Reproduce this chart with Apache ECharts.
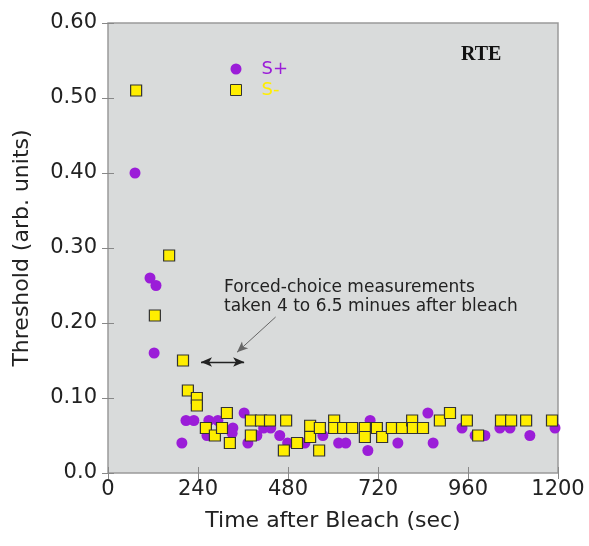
<!DOCTYPE html>
<html>
<head>
<meta charset="utf-8">
<script src="https://cdn.jsdelivr.net/npm/echarts@6/dist/echarts.min.js"></script>
<style>
  html, body { margin: 0; padding: 0; background: #fff; }
  #content { width: 589px; height: 546px; }
</style>
</head>
<body>
<div id="content"></div>
<script>
// S+ : time after bleach (sec), threshold (arb. units)
var sPlusTime = [72, 112, 128, 123, 197, 208, 229, 269, 293, 264, 333, 331, 363, 373, 397, 415, 434, 458, 479,
    525, 573, 615, 634, 699, 693, 773, 853, 867, 944, 979, 1005, 1045, 1072, 1125, 1192];
var sPlusValue = [0.40, 0.26, 0.25, 0.16, 0.04, 0.07, 0.07, 0.07, 0.07, 0.05, 0.06, 0.053, 0.08, 0.04, 0.05, 0.06, 0.06, 0.05, 0.04,
    0.04, 0.05, 0.04, 0.04, 0.07, 0.03, 0.04, 0.08, 0.04, 0.06, 0.05, 0.05, 0.06, 0.06, 0.05, 0.06];

// S- : time after bleach (sec), threshold (arb. units)
var sMinusTime = [75, 163, 125, 200, 213, 237, 237, 261, 285, 304, 317, 325, 381, 381, 408, 432, 475, 469, 504,
    539, 539, 565, 563, 603, 603, 627, 651, 685, 685, 717, 731, 757, 784, 811, 813,
    840, 885, 912, 957, 987, 1048, 1075, 1115, 1184];
var sMinusValue = [0.51, 0.29, 0.21, 0.15, 0.11, 0.10, 0.09, 0.06, 0.05, 0.06, 0.08, 0.04, 0.07, 0.05, 0.07, 0.07, 0.07, 0.03, 0.04,
    0.063, 0.048, 0.06, 0.03, 0.07, 0.06, 0.06, 0.06, 0.06, 0.048, 0.06, 0.048, 0.06, 0.06, 0.07, 0.06,
    0.06, 0.07, 0.08, 0.07, 0.05, 0.07, 0.07, 0.07, 0.07];

var seriesNames = ["S+", "S-"];

// annotation: "4 to 6.5 minutes" span and the pointer arrow
var spanArrow = [[248, 0.148], [363, 0.148]];
var pointerArrow = [[447, 0.208], [344, 0.161]];

var purple = "#9b1dd8";
var yellow = "#ffee00";
var labelFont = "DejaVu Sans";

function pairs(xs, ys) {
    var out = [];
    for (var i = 0; i < xs.length; i++) {
        out.push([xs[i], ys[i]]);
    }
    return out;
}

var myChart = echarts.init(document.getElementById("content"), null, { renderer: "canvas" });

var tickStyle = { show: true, inside: true, length: 6, lineStyle: { color: "#888", width: 1 } };

myChart.setOption({
    animation: false,
    grid: {
        left: 108, top: 23, width: 450, height: 450,
        show: true,
        backgroundColor: "#d9dbdb",
        borderColor: "#9a9a9a",
        borderWidth: 1.5
    },
    legend: {
        orient: "vertical",
        left: 230,
        top: 60,
        padding: 0,
        itemWidth: 11,
        itemHeight: 11,
        itemGap: 3,
        textStyle: { fontSize: 18, fontFamily: labelFont, padding: [0, 0, 0, 15] },
        data: [
            { name: seriesNames[0], icon: "circle", textStyle: { color: purple } },
            { name: seriesNames[1], icon: "rect", itemStyle: { borderWidth: 1 }, textStyle: { color: yellow } }
        ]
    },
    xAxis: [{
        type: "value",
        min: 0, max: 1200, interval: 240,
        position: "bottom",
        name: "Time after Bleach (sec)",
        nameLocation: "middle",
        nameGap: 37,
        nameTextStyle: { fontSize: 22, color: "#222", fontFamily: labelFont },
        axisLine: { show: false },
        axisTick: tickStyle,
        splitLine: { show: false },
        axisLabel: {
            fontSize: 21, color: "#222", fontFamily: labelFont, margin: 6,
            formatter: function(v) {
                return String(v);
            }
        }
    }, {
        type: "value",
        min: 0, max: 1200, interval: 240,
        position: "top",
        axisLine: { show: false },
        axisTick: tickStyle,
        splitLine: { show: false },
        axisLabel: { show: false }
    }],
    yAxis: [{
        type: "value",
        min: 0, max: 0.6, interval: 0.1,
        position: "left",
        name: "Threshold (arb. units)",
        nameLocation: "middle",
        nameRotate: 90,
        nameGap: 75,
        nameTextStyle: { fontSize: 22, color: "#222", fontFamily: labelFont },
        axisLine: { show: false },
        axisTick: tickStyle,
        splitLine: { show: false },
        axisLabel: {
            fontSize: 21, color: "#222", fontFamily: labelFont, margin: 11,
            formatter: function(v) {
                return v === 0 ? "0.0" : v.toFixed(2);
            }
        }
    }, {
        type: "value",
        min: 0, max: 0.6, interval: 0.1,
        position: "right",
        axisLine: { show: false },
        axisTick: tickStyle,
        splitLine: { show: false },
        axisLabel: { show: false }
    }],
    series: [{
        name: seriesNames[0],
        type: "scatter",
        symbol: "circle",
        symbolSize: 11,
        itemStyle: { color: purple, opacity: 1 },
        data: pairs(sPlusTime, sPlusValue),
        z: 2
    }, {
        name: seriesNames[1],
        type: "scatter",
        symbol: "rect",
        symbolSize: 11,
        itemStyle: { color: yellow, borderColor: "#333", borderWidth: 1.2, opacity: 1 },
        data: pairs(sMinusTime, sMinusValue),
        z: 3,
        markLine: {
            silent: true,
            animation: false,
            label: { show: false },
            emphasis: { disabled: true },
            data: [
                [
                    { coord: spanArrow[0], symbol: "arrow", symbolSize: [7, 11], lineStyle: { color: "#222", width: 1.3, type: "solid" } },
                    { coord: spanArrow[1], symbol: "arrow", symbolSize: [7, 11] }
                ],
                [
                    { coord: pointerArrow[0], symbol: "none", lineStyle: { color: "#666", width: 1, type: "solid" } },
                    { coord: pointerArrow[1], symbol: "arrow", symbolSize: [7, 11] }
                ]
            ]
        }
    }],
    graphic: [{
        type: "text",
        left: 224,
        top: 278,
        style: {
            text: "Forced-choice measurements\ntaken 4 to 6.5 minues after bleach",
            font: "17px DejaVu Sans",
            lineHeight: 19,
            fill: "#222"
        }
    }, {
        type: "text",
        left: 461,
        top: 45,
        style: {
            text: "RTE",
            font: "bold 20px 'Liberation Serif'",
            fill: "#111"
        }
    }]
});
</script>
</body>
</html>
